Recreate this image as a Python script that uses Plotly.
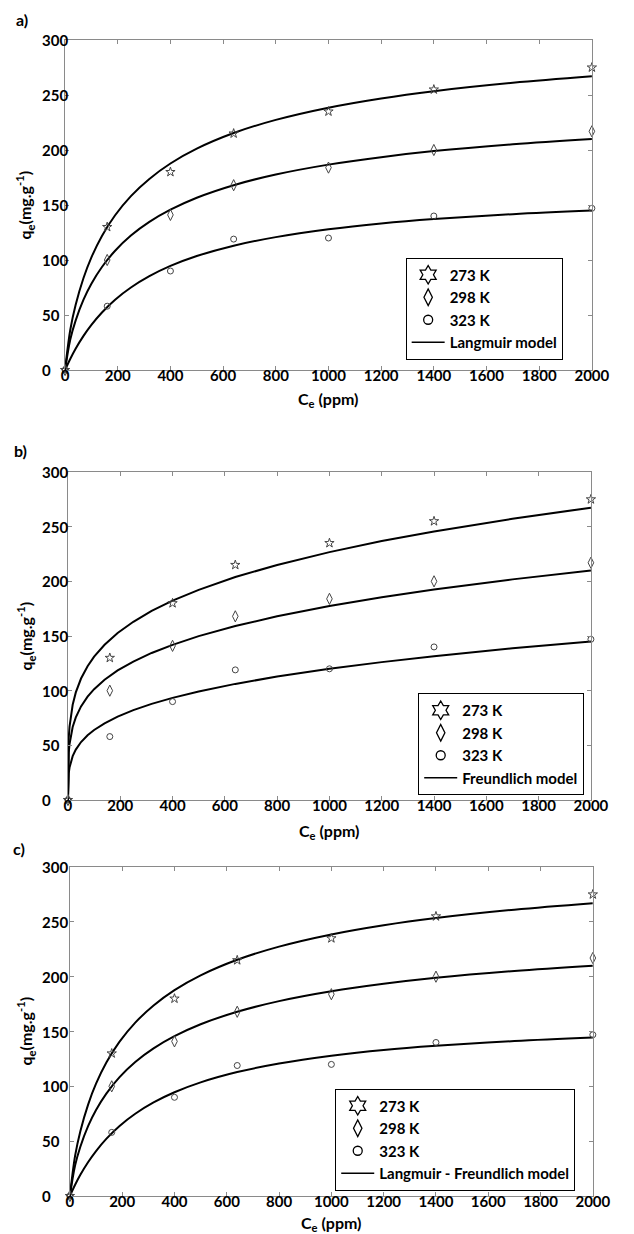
import plotly.graph_objects as go

# ---------------- data ----------------
C_exp = [0, 160, 400, 640, 1000, 1400, 2000]
q273 = [0, 130, 180, 215, 235, 255, 275]
q298 = [0, 100, 141, 168, 184, 200, 217]
q323 = [0, 58, 90, 119, 120, 140, 147]

# model curves
C_fit = [0, 20, 40, 70, 100, 140, 190, 250, 320, 400, 500, 640, 800, 1000, 1200, 1400, 1700, 2000]
lang_273 = [0, 36.8, 59.1, 83.6, 102.4, 121.9, 140.7, 158.1, 173.7, 187.7, 201.2, 215.4, 227.4, 238.5, 246.9, 253.5, 261.1, 267.0]
lang_298 = [0, 27.9, 44.9, 63.9, 78.4, 93.6, 108.4, 122.2, 134.6, 145.7, 156.6, 168.0, 177.7, 186.7, 193.5, 199.0, 205.2, 210.0]
lang_323 = [0, 10.2, 19.3, 31.0, 41.0, 52.3, 63.9, 75.0, 85.3, 94.6, 103.6, 113.0, 120.8, 127.9, 133.2, 137.2, 141.7, 145.0]

lf_273 = [0, 36.8, 59.1, 83.6, 102.4, 121.9, 140.7, 158.1, 173.7, 187.7, 201.2, 215.4, 227.4, 238.5, 246.9, 253.5, 261.1, 267.0]
lf_298 = [0, 27.9, 44.9, 63.9, 78.4, 93.6, 108.4, 122.2, 134.6, 145.7, 156.6, 168.0, 177.7, 186.7, 193.5, 199.0, 205.2, 210.0]
lf_323 = [0, 10.2, 19.3, 31.0, 41.0, 52.3, 63.9, 75.0, 85.3, 94.6, 103.6, 113.0, 120.8, 127.9, 133.2, 137.0, 141.3, 144.5]

C_fit_f = [0, 1, 3, 6, 10, 18, 30, 50, 75, 100, 140, 190, 250, 320, 400, 500, 640, 800, 1000, 1200, 1400, 1700, 2000]
freu_273 = [0, 43.8, 56.9, 67.1, 75.8, 87.1, 98.4, 111.1, 122.4, 131.1, 142.0, 152.7, 163.0, 172.9, 182.3, 192.2, 203.9, 215.0, 226.7, 236.8, 245.6, 257.2, 267.4]
freu_298 = [0, 33.1, 43.2, 51.2, 57.9, 66.8, 75.6, 85.6, 94.5, 101.4, 110.0, 118.5, 126.6, 134.5, 141.9, 149.9, 159.1, 168.0, 177.4, 185.4, 192.5, 201.8, 209.9]
freu_323 = [0, 18.2, 24.6, 29.7, 34.1, 40.1, 46.1, 53.0, 59.2, 64.0, 70.1, 76.2, 82.2, 87.9, 93.4, 99.3, 106.2, 112.9, 120.0, 126.1, 131.5, 138.7, 145.0]

series_labels = ["273 K", "298 K", "323 K"]
model_labels = ["Langmuir model", "Freundlich model", "Langmuir - Freundlich model"]
panel_labels = ["a)", "b)", "c)"]
x_ticks = list(range(0, 2001, 200))
y_ticks = list(range(0, 301, 50))

# ---------------- layout geometry (page pixels) ----------------
OFF = 8                      # default body margin of the html page
W, H = 634 - OFF, 1234 - OFF
panels = [
    dict(x0=63, x1=609, y0=40, y1=370, leg=(416, 308.5), xt=399, yt=205, lab=(18, 19)),
    dict(x0=66, x1=608, y0=472, y1=800, leg=(429, 744), xt=831, yt=636, lab=(17, 450)),
    dict(x0=68, x1=610, y0=867, y1=1196, leg=(343, 1139.5), xt=1223, yt=1031, lab=(15, 848)),
]
curves = [
    (C_fit, [lang_273, lang_298, lang_323], "spline"),
    (C_fit_f, [freu_273, freu_298, freu_323], "linear"),
    (C_fit, [lf_273, lf_298, lf_323], "spline"),
]
data_sym = ["star-open", "diamond-tall-open", "circle-open"]
data_size = [7, 8, 6]
leg_sym = ["hexagram-open", "diamond-tall-open", "circle-open"]
leg_size = [14, 12, 9]
exp_vals = [q273, q298, q323]


def px(x):
    return (x - OFF) / W


def py(y):
    return 1 - (y - OFF) / H


FONT = "Lato"
TXT = dict(family=FONT, color="black", weight="bold")
fig = go.Figure()
annotations = []
layout = {}

for i, p in enumerate(panels):
    sfx = "" if i == 0 else str(i + 1)
    xa, ya = "x" + sfx, "y" + sfx
    legname = "legend" + sfx
    cx, cys, shape = curves[i]
    for k in range(3):
        line = dict(color="black", width=2, shape=shape)
        if shape == "spline":
            line["smoothing"] = 1.0
        fig.add_trace(go.Scatter(
            x=cx, y=cys[k], xaxis=xa, yaxis=ya, mode="lines",
            line=line, showlegend=False, hoverinfo="skip"))
    for k in range(3):
        fig.add_trace(go.Scatter(
            x=C_exp, y=exp_vals[k], xaxis=xa, yaxis=ya, mode="markers",
            marker=dict(symbol=data_sym[k], size=data_size[k], color="#444",
                        line=dict(width=1, color="#444")),
            cliponaxis=False, showlegend=False))
    for k in range(3):
        fig.add_trace(go.Scatter(
            x=[None], y=[None], xaxis=xa, yaxis=ya, mode="markers",
            name=series_labels[k], legend=legname,
            marker=dict(symbol=leg_sym[k], size=leg_size[k], color="black",
                        line=dict(width=1.3, color="black"))))
    fig.add_trace(go.Scatter(
        x=[None], y=[None], xaxis=xa, yaxis=ya, mode="lines",
        name=model_labels[i], legend=legname,
        line=dict(color="black", width=1.5)))

    axis_common = dict(
        showline=True, linecolor="#8a8a8a", linewidth=1, mirror="allticks",
        ticks="inside", ticklen=4, tickcolor="#8a8a8a", showgrid=False,
        zeroline=False, tickfont=dict(TXT, size=15),
    )
    layout["xaxis" + sfx] = dict(
        axis_common, domain=[px(p["x0"]), px(p["x1"])], range=[0, 2000],
        tickvals=x_ticks, anchor=ya, ticklabelstandoff=-8)
    layout["yaxis" + sfx] = dict(
        axis_common, domain=[py(p["y1"]), py(p["y0"])], range=[0, 300],
        tickvals=y_ticks, anchor=xa, showticklabels=False)
    layout[legname] = dict(
        x=px(p["leg"][0]), y=py(p["leg"][1]), xanchor="left", yanchor="middle",
        bgcolor="white", bordercolor="black", borderwidth=1,
        font=dict(TXT, size=15), traceorder="normal", itemwidth=33)

    # y tick labels: left-aligned column, positioned by the y axis scale
    for v in y_ticks:
        annotations.append(dict(
            x=px(37), xref="paper", y=v, yref=ya, text=str(v), showarrow=False,
            xanchor="left", yanchor="middle", font=dict(TXT, size=15)))

    annotations.append(dict(
        x=px((p["x0"] + p["x1"]) / 2), y=py(p["xt"]), xref="paper", yref="paper",
        text="C<sub>e</sub> (ppm)", showarrow=False, xanchor="center", yanchor="middle",
        font=dict(TXT, size=16)))
    annotations.append(dict(
        x=px(22), y=py(p["yt"]), xref="paper", yref="paper",
        text="q<sub>e</sub>(mg.g<sup>-1</sup>)", showarrow=False, textangle=-90,
        xanchor="center", yanchor="middle", font=dict(TXT, size=16)))
    annotations.append(dict(
        x=px(p["lab"][0]), y=py(p["lab"][1]), xref="paper", yref="paper",
        text=panel_labels[i], showarrow=False, xanchor="center", yanchor="middle",
        font=dict(TXT, size=16)))

fig.update_layout(
    width=W, height=H, margin=dict(l=0, r=0, t=0, b=0),
    paper_bgcolor="white", plot_bgcolor="white",
    annotations=annotations, **layout)

fig.write_html("out.html")
